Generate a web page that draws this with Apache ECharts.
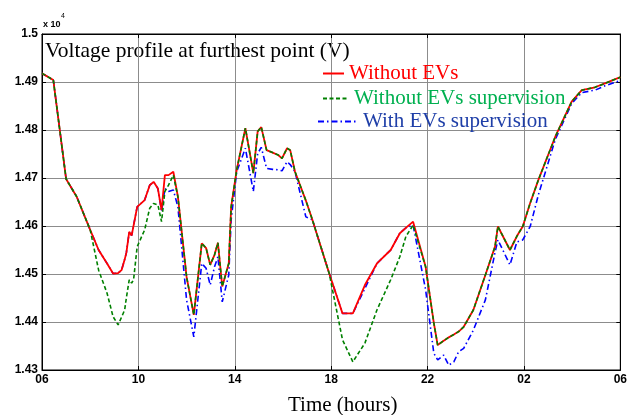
<!DOCTYPE html>
<html>
<head>
<meta charset="utf-8">
<script src="https://cdn.jsdelivr.net/npm/echarts@6/dist/echarts.min.js"></script>
<style>html,body{margin:0;padding:0;background:#fff}#c{width:630px;height:415px}</style>
</head>
<body>
<div id="c"></div>
<script>
// time in hours from 06:00 (6) to next-day 06:00 (30)
const hours = [6.0, 6.47, 7.0, 7.44, 7.78, 8.0, 8.35, 8.7, 8.95, 9.16, 9.3, 9.43, 9.5, 9.62, 9.72, 9.8, 9.95, 10.26, 10.47, 10.63, 10.81, 10.96, 11.1, 11.25, 11.45, 11.64, 12.0, 12.3, 12.63, 12.81, 12.98, 13.16, 13.3, 13.48, 13.75, 13.85, 14.08, 14.44, 14.77, 14.95, 15.1, 15.32, 15.57, 15.8, 15.96, 16.17, 16.3, 16.5, 16.95, 17.22, 17.92, 18.47, 18.9, 19.4, 19.9, 20.47, 20.85, 21.1, 21.4, 21.92, 22.26, 22.42, 22.67, 22.88, 23.09, 23.29, 23.5, 23.9, 24.4, 24.8, 24.92, 25.42, 25.71, 25.95, 26.26, 26.6, 27.3, 27.98, 28.4, 28.95, 29.36, 30.0];

const withoutEVs = [14918, 14904, 14698, 14661, 14619, 14592, 14550, 14522, 14501, 14502, 14508, 14530, 14544, 14588, 14580, 14578, 14640, 14654, 14685, 14692, 14678, 14633, 14706, 14706, 14713, 14661, 14494, 14415, 14564, 14554, 14519, 14540, 14565, 14474, 14522, 14640, 14717, 14804, 14710, 14797, 14806, 14758, 14753, 14748, 14741, 14762, 14758, 14713, 14653, 14613, 14501, 14418, 14418, 14477, 14522, 14550, 14585, 14596, 14609, 14515, 14398, 14352, 14361, 14368, 14374, 14380, 14390, 14425, 14498, 14557, 14599, 14550, 14579, 14599, 14648, 14696, 14786, 14859, 14883, 14889, 14897, 14910];

const withoutSupervision = [14918, 14904, 14698, 14661, 14619, 14592, 14508, 14460, 14411, 14394, 14410, 14425, 14450, 14488, 14481, 14488, 14557, 14592, 14637, 14647, 14644, 14609, 14672, 14685, 14706, 14661, 14494, 14415, 14564, 14554, 14519, 14540, 14565, 14474, 14522, 14640, 14717, 14804, 14710, 14797, 14806, 14758, 14753, 14748, 14741, 14762, 14758, 14713, 14653, 14613, 14501, 14363, 14317, 14356, 14425, 14488, 14536, 14578, 14602, 14515, 14398, 14352, 14361, 14368, 14374, 14380, 14390, 14425, 14498, 14557, 14599, 14550, 14579, 14599, 14648, 14696, 14786, 14859, 14883, 14889, 14897, 14910];

const withSupervision = [14918, 14904, 14698, 14661, 14619, 14592, 14550, 14522, 14501, 14502, 14508, 14530, 14544, 14588, 14580, 14578, 14640, 14654, 14685, 14692, 14678, 14630, 14678, 14672, 14675, 14640, 14446, 14369, 14522, 14512, 14477, 14515, 14536, 14442, 14498, 14613, 14713, 14762, 14672, 14751, 14764, 14720, 14718, 14717, 14715, 14734, 14728, 14713, 14619, 14613, 14501, 14418, 14418, 14470, 14522, 14550, 14585, 14596, 14602, 14467, 14335, 14321, 14331, 14310, 14317, 14338, 14345, 14383, 14446, 14545, 14571, 14519, 14567, 14571, 14599, 14665, 14780, 14855, 14878, 14883, 14892, 14903];

const seriesNames = ['Without EVs', 'Without EVs supervision', 'With EVs supervision'];
const xTicks = [6, 10, 14, 18, 22, 26, 30];

const pair = arr => hours.map((h, i) => [h, arr[i]]);
const chart = echarts.init(document.getElementById('c'), null, {renderer: 'canvas'});
const serif = '"Liberation Serif", "Times New Roman", serif';
const sans = '"Liberation Sans", Arial, sans-serif';

const legendBase = {orient: 'vertical', itemHeight: 14, itemStyle: {opacity: 0},
  textStyle: {fontFamily: serif, fontSize: 21}};

chart.setOption({
  animation: false,
  backgroundColor: '#fff',
  grid: {left: 42, right: 8, top: 34, bottom: 45, show: true, borderColor: '#000', borderWidth: 1},
  xAxis: [{
    type: 'value', min: 6, max: 30, interval: 4,
    axisLine: {show: true, lineStyle: {color: '#000', width: 1}},
    axisTick: {show: true, inside: true, length: 4, lineStyle: {color: '#000'}},
    axisLabel: {margin: 4, color: '#000', fontFamily: sans, fontWeight: 'bold', fontSize: 12,
      formatter: v => { const h = ((v % 24) + 24) % 24; return (h < 10 ? '0' : '') + h; }},
    splitLine: {show: true, lineStyle: {color: '#8c8c8c', width: 1}}
  }, {
    type: 'value', min: 6, max: 30, interval: 4, position: 'top',
    axisLine: {show: true, lineStyle: {color: '#000'}},
    axisTick: {show: true, inside: true, length: 4, lineStyle: {color: '#000'}},
    axisLabel: {show: false}, splitLine: {show: false}
  }],
  yAxis: [{
    type: 'value', min: 14300, max: 15000, interval: 100,
    axisLine: {show: true, lineStyle: {color: '#000', width: 1}},
    axisTick: {show: true, inside: true, length: 4, lineStyle: {color: '#000'}},
    axisLabel: {margin: 4, color: '#000', fontFamily: sans, fontWeight: 'bold', fontSize: 12,
      formatter: v => String(+(v / 10000).toFixed(2))},
    splitLine: {show: true, lineStyle: {color: '#8c8c8c', width: 1}}
  }, {
    type: 'value', min: 14300, max: 15000, interval: 100, position: 'right',
    axisLine: {show: true, lineStyle: {color: '#000'}},
    axisTick: {show: true, inside: true, length: 4, lineStyle: {color: '#000'}},
    axisLabel: {show: false}, splitLine: {show: false}
  }],
  legend: [
    Object.assign({}, legendBase, {left: 317, top: 58, itemWidth: 21,
      data: [{name: seriesNames[0], textStyle: {color: '#ff0000'}}]}),
    Object.assign({}, legendBase, {left: 317, top: 83, itemWidth: 26,
      data: [{name: seriesNames[1], textStyle: {color: '#00b050'}}]}),
    Object.assign({}, legendBase, {left: 312, top: 106, itemWidth: 40,
      data: [{name: seriesNames[2], textStyle: {color: '#1f3fa8'}}]})
  ],
  graphic: [
    {type: 'text', left: 45, top: 40, style: {text: 'Voltage profile at furthest point (V)', font: '21.5px ' + serif, fill: '#000'}},
    {type: 'text', left: 43, top: 20, style: {text: 'x 10', font: 'bold 9px ' + sans, fill: '#000'}},
    {type: 'text', left: 61, top: 13, style: {text: '4', font: '7px ' + sans, fill: '#000'}},
    {type: 'text', left: 288, top: 395, style: {text: 'Time (hours)', font: '21px ' + serif, fill: '#000'}}
  ],
  series: [
    {name: seriesNames[2], type: 'line', data: pair(withSupervision), symbol: 'none', z: 2,
      itemStyle: {color: '#0000ff'}, lineStyle: {color: '#0000ff', width: 1.6, type: [6, 3, 1.5, 3]}},
    {name: seriesNames[0], type: 'line', data: pair(withoutEVs), symbol: 'none', z: 3,
      itemStyle: {color: '#ff0000'}, lineStyle: {color: '#ff0000', width: 1.8, type: 'solid'}},
    {name: seriesNames[1], type: 'line', data: pair(withoutSupervision), symbol: 'none', z: 4,
      itemStyle: {color: '#008000'}, lineStyle: {color: '#008000', width: 1.6, type: [4, 2.5]}}
  ]
});
</script>
</body>
</html>
